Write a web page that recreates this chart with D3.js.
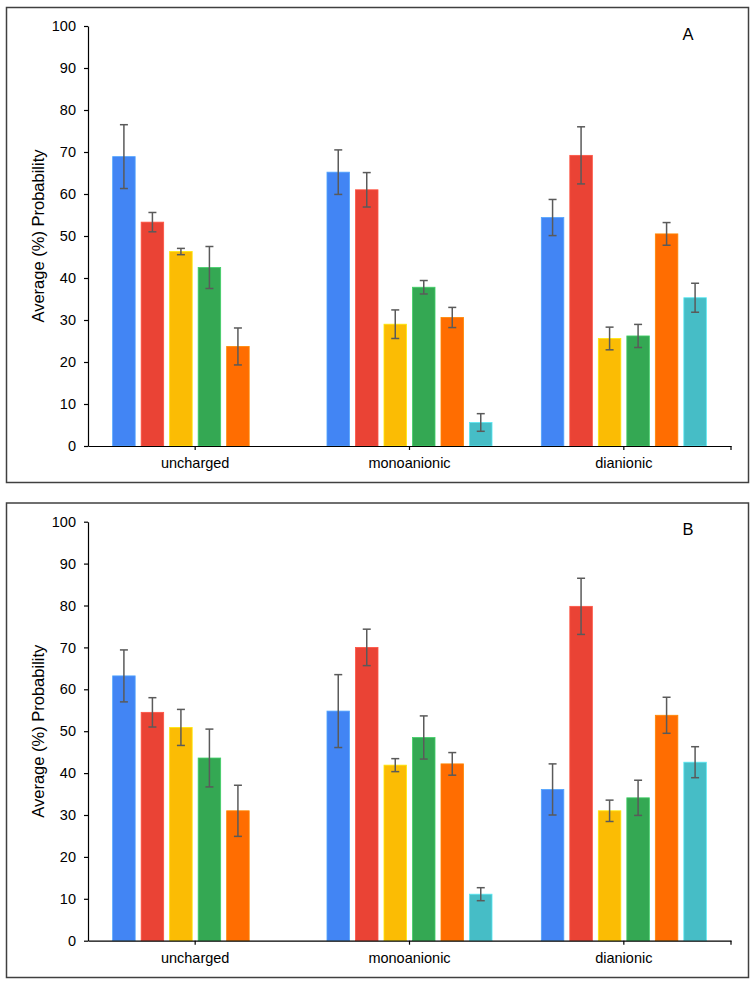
<!DOCTYPE html>
<html>
<head>
<meta charset="utf-8">
<script src="https://cdn.jsdelivr.net/npm/d3@7"></script>
<style>
  body { margin: 0; background: #fff; }
  svg { display: block; font-family: "Liberation Sans", Arial, sans-serif; }
</style>
</head>
<body>
<svg id="chart" width="755" height="984"></svg>
<script>
// Categories and tick values
const categories = ['uncharged', 'monoanionic', 'dianionic'];
const yTicks = [0, 10, 20, 30, 40, 50, 60, 70, 80, 90, 100];
const seriesColors = ['#4285F4', '#EA4335', '#FBBC04', '#34A853', '#FF6D01', '#46BDC6'];

// Panel A: one row per series, one column per category
const meansA = [
    [68.9, 65.2, 54.4],
    [53.3, 61.0, 69.2],
    [46.3, 29.0, 25.6],
    [42.5, 37.8, 26.2],
    [23.7, 30.6, 50.5],
    [null, 5.6, 35.3]
];
const errorsA = [
    [7.6, 5.3, 4.3],
    [2.3, 4.1, 6.8],
    [0.75, 3.4, 2.7],
    [5.0, 1.6, 2.75],
    [4.4, 2.4, 2.7],
    [null, 2.1, 3.45]
];

// Panel B
const meansB = [
    [63.2, 54.8, 36.1],
    [54.5, 70.0, 79.8],
    [50.9, 41.9, 31.0],
    [43.6, 48.5, 34.1],
    [31.0, 42.2, 53.8],
    [null, 11.1, 42.6]
];
const errorsB = [
    [6.2, 8.7, 6.1],
    [3.5, 4.35, 6.7],
    [4.3, 1.55, 2.55],
    [6.9, 5.15, 4.2],
    [6.1, 2.7, 4.3],
    [null, 1.55, 3.7]
];

const svg = d3.select('#chart');

function drawPanel(opts) {
    const { box, plot, means, errors, letter } = opts;

    // Frame
    svg.append('rect')
        .attr('x', box.x).attr('y', box.y)
        .attr('width', box.w).attr('height', box.h)
        .attr('fill', 'none')
        .attr('stroke', '#404040')
        .attr('stroke-width', 1.5);

    const x0 = d3.scaleBand()
        .domain(categories)
        .range([plot.left, plot.right]);

    const inset = x0.bandwidth() * 0.115;
    const x1 = d3.scaleBand()
        .domain(d3.range(seriesColors.length))
        .range([inset, x0.bandwidth() - inset])
        .paddingInner(0.21);

    const y = d3.scaleLinear()
        .domain([0, 100])
        .range([plot.bottom, plot.top]);

    // flatten into bar records
    const bars = [];
    means.forEach((row, s) => {
        row.forEach((v, c) => {
            if (v == null) return;
            bars.push({ s, cat: categories[c], value: v, err: errors[s][c] });
        });
    });

    const g = svg.append('g');

    g.selectAll('rect.bar')
        .data(bars)
        .join('rect')
        .attr('class', 'bar')
        .attr('x', d => x0(d.cat) + x1(d.s))
        .attr('y', d => y(d.value))
        .attr('width', x1.bandwidth())
        .attr('height', d => y(0) - y(d.value))
        .attr('fill', d => seriesColors[d.s])
        .attr('stroke', d => d3.color(seriesColors[d.s]).brighter(0.6))
        .attr('stroke-width', 0.8);

    // Error bars
    const cap = 4;
    const eb = g.selectAll('g.err')
        .data(bars)
        .join('g')
        .attr('class', 'err')
        .attr('stroke', '#5a5a5a')
        .attr('stroke-width', 1.5);
    const cx = d => x0(d.cat) + x1(d.s) + x1.bandwidth() / 2;
    eb.append('line')
        .attr('x1', cx).attr('x2', cx)
        .attr('y1', d => y(d.value + d.err))
        .attr('y2', d => y(d.value - d.err));
    eb.append('line')
        .attr('x1', d => cx(d) - cap).attr('x2', d => cx(d) + cap)
        .attr('y1', d => y(d.value + d.err)).attr('y2', d => y(d.value + d.err));
    eb.append('line')
        .attr('x1', d => cx(d) - cap).attr('x2', d => cx(d) + cap)
        .attr('y1', d => y(d.value - d.err)).attr('y2', d => y(d.value - d.err));

    // Y axis
    const yAxis = g.append('g')
        .attr('transform', `translate(${plot.left},0)`)
        .call(d3.axisLeft(y).tickValues(yTicks).tickSize(4).tickSizeOuter(0).tickPadding(8))
        .attr('font-family', null);
    yAxis.selectAll('text').attr('font-size', 14.5).attr('fill', '#000');
    yAxis.selectAll('line, path').attr('stroke', '#000').attr('stroke-width', 1.2);

    // X axis
    const xAxis = g.append('g')
        .attr('transform', `translate(0,${plot.bottom})`)
        .call(d3.axisBottom(x0).tickSize(4).tickSizeOuter(0).tickPadding(8))
        .attr('font-family', null);
    xAxis.selectAll('text').attr('font-size', 14.5).attr('fill', '#000');
    xAxis.selectAll('line, path').attr('stroke', '#000').attr('stroke-width', 1.2);
    xAxis.append('line')
        .attr('x1', plot.right).attr('x2', plot.right)
        .attr('y1', 0).attr('y2', 4)
        .attr('stroke', '#000').attr('stroke-width', 1.2);

    // Y title
    g.append('text')
        .attr('transform', `translate(38,${(plot.top + plot.bottom) / 2}) rotate(-90)`)
        .attr('text-anchor', 'middle')
        .attr('dominant-baseline', 'central')
        .attr('font-size', 16.5)
        .text('Average (%) Probability');

    // Panel letter
    g.append('text')
        .attr('x', 688)
        .attr('y', letter.y)
        .attr('text-anchor', 'middle')
        .attr('font-size', 16.5)
        .text(letter.text);
}

drawPanel({
    box: { x: 6.5, y: 7.5, w: 742, h: 475 },
    plot: { left: 88, right: 731, top: 26, bottom: 446 },
    means: meansA, errors: errorsA,
    letter: { text: 'A', y: 40 }
});

drawPanel({
    box: { x: 6.5, y: 503, w: 742, h: 474.5 },
    plot: { left: 88, right: 731, top: 521.7, bottom: 940.7 },
    means: meansB, errors: errorsB,
    letter: { text: 'B', y: 535 }
});
</script>
</body>
</html>
